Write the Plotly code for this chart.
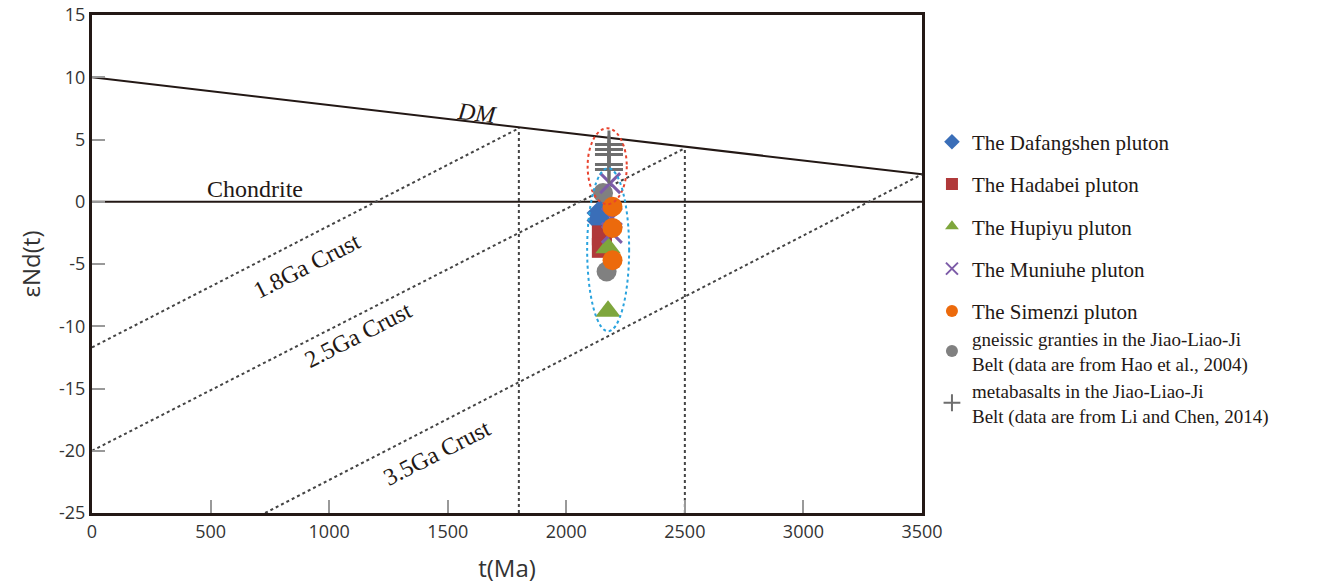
import plotly.graph_objects as go

# ---------------- data ----------------
x_tickvals = [0, 500, 1000, 1500, 2000, 2500, 3000, 3500]
x_ticktext = ["0", "500", "1000", "1500", "2000", "2500", "3000", "3500"]
y_tickvals = [-25, -20, -15, -10, -5, 0, 5, 10, 15]
y_ticktext = ["-25", "-20", "-15", "-10", "-5", "0", "5", "10", "15"]

# reference evolution lines
dm_t = [0, 3500]
dm_eps = [10.0, 2.2]
chondrite_t = [0, 3500]
chondrite_eps = [0, 0]
crust18_t = [0, 1800]
crust18_eps = [-11.7, 5.9]
crust25_t = [0, 2500]
crust25_eps = [-20.0, 4.3]
crust35_t = [730, 3500]
crust35_eps = [-25.0, 2.2]
v18_t = [1800, 1800]
v18_eps = [-25.0, 5.9]
v25_t = [2500, 2500]
v25_eps = [-25.0, 4.3]

# samples
gneiss_t = [2155, 2170]
gneiss_eps = [0.7, -5.6]
dafangshen_t = [2140, 2140]
dafangshen_eps = [-0.9, -1.5]
hadabei_t = [2150, 2150]
hadabei_eps = [-2.7, -3.7]
hupiyu_t = [2176, 2176]
hupiyu_eps = [-3.7, -8.8]
muniuhe_t = [2185, 2192, 2192]
muniuhe_eps = [1.5, -1.3, -2.5]
metabasalt_t = [2180, 2180, 2180, 2180, 2180]
metabasalt_eps = [4.6, 4.2, 3.8, 3.0, 2.6]
simenzi_t = [2195, 2195, 2195]
simenzi_eps = [-0.4, -2.1, -4.7]

# ellipses (x0, x1, y0, y1)
red_ellipse = [2090, 2255, -0.2, 5.9]
blue_ellipse = [2088, 2265, -10.4, 2.7]

SERIF = "Liberation Serif"
SANS = "Open Sans"
DARK = "#231815"

fig = go.Figure()

def ref_line(t, e, dash="solid", width=2, color=DARK):
    fig.add_trace(go.Scatter(x=t, y=e, mode="lines", showlegend=False,
                             hoverinfo="skip",
                             line=dict(color=color, width=width, dash=dash)))

ref_line(dm_t, dm_eps)
ref_line(chondrite_t, chondrite_eps)
for t, e in [(crust18_t, crust18_eps), (crust25_t, crust25_eps),
             (crust35_t, crust35_eps), (v18_t, v18_eps), (v25_t, v25_eps)]:
    ref_line(t, e, dash="dot", width=2, color="#444444")

def pts(t, e, name, symbol, color, size, rank, legend, line=None):
    mk = dict(symbol=symbol, color=color, size=size)
    if line is not None:
        mk["line"] = line
    fig.add_trace(go.Scatter(x=t, y=e, mode="markers", name=name,
                             marker=mk, legendrank=rank, legend=legend))

pts(gneiss_t, gneiss_eps,
    "gneissic granties in the Jiao-Liao-Ji<br>Belt (data are from Hao et al., 2004)",
    "circle", "#808080", 20, 6, "legend2")
pts(dafangshen_t, dafangshen_eps, "The Dafangshen pluton", "diamond", "#3A6EB8", 20, 1, "legend")
pts(hadabei_t, hadabei_eps, "The Hadabei pluton", "square", "#B0393A", 20, 2, "legend")
pts(hupiyu_t, hupiyu_eps, "The Hupiyu pluton", "triangle-up", "#7EA63C", 22, 3, "legend")
pts(muniuhe_t, muniuhe_eps, "The Muniuhe pluton", "x-thin", "#7D5CA8", 20, 4, "legend",
    line=dict(color="#7D5CA8", width=3))
pts(metabasalt_t, metabasalt_eps,
    "metabasalts in the Jiao-Liao-Ji<br>Belt (data are from Li and Chen, 2014)",
    "cross-thin", "#6E6E6E", 20, 7, "legend3", line=dict(color="#6E6E6E", width=3))
pts(simenzi_t, simenzi_eps, "The Simenzi pluton", "circle", "#EC6A0C", 20, 5, "legend")

# ellipses
fig.add_shape(type="circle", xref="x", yref="y",
              x0=red_ellipse[0], x1=red_ellipse[1], y0=red_ellipse[2], y1=red_ellipse[3],
              line=dict(color="#E8432E", width=2, dash="dot"))
fig.add_shape(type="circle", xref="x", yref="y",
              x0=blue_ellipse[0], x1=blue_ellipse[1], y0=blue_ellipse[2], y1=blue_ellipse[3],
              line=dict(color="#2AA3DE", width=2, dash="dot"))

# text labels
lab_font = dict(family=SERIF, size=24, color=DARK)
fig.add_annotation(x=1625, y=7.1, text="<i>DM</i>", showarrow=False, textangle=6.7, font=lab_font)
fig.add_annotation(x=687, y=1.0, text="Chondrite", showarrow=False, font=lab_font)
fig.add_annotation(x=905, y=-5.2, text="1.8Ga Crust", showarrow=False, textangle=-27, font=lab_font)
fig.add_annotation(x=1122, y=-10.7, text="2.5Ga Crust", showarrow=False, textangle=-27, font=lab_font)
fig.add_annotation(x=1453, y=-20.2, text="3.5Ga Crust", showarrow=False, textangle=-27, font=lab_font)

axis_common = dict(showgrid=False, zeroline=False, showline=True, linewidth=3,
                   linecolor=DARK, mirror=True, ticks="inside", ticklen=13,
                   tickwidth=1.5, tickcolor="#999999",
                   tickfont=dict(family=SANS, size=18, color="#333333"))

fig.update_xaxes(range=[0, 3500], tickvals=x_tickvals, ticktext=x_ticktext, **axis_common,
                 title=dict(text="t(Ma)", font=dict(family=SANS, size=24, color="#333333"),
                            standoff=20))
fig.update_yaxes(range=[-25, 15], tickvals=y_tickvals, ticktext=y_ticktext, **axis_common,
                 title=dict(text="εNd(t)", font=dict(family=SANS, size=24, color="#333333"),
                            standoff=12))

leg_font = dict(family=SERIF, size=21, color=DARK)
leg_font2 = dict(family=SERIF, size=19, color=DARK)
fig.update_layout(
    width=1324, height=584,
    margin=dict(l=92, r=402, t=15, b=71, autoexpand=False),
    plot_bgcolor="white", paper_bgcolor="white",
    legend=dict(x=1.012, y=0.786, xanchor="left", yanchor="top", font=leg_font,
                tracegroupgap=12, traceorder="grouped", bgcolor="rgba(0,0,0,0)",
                itemsizing="constant"),
    legend2=dict(x=1.012, y=0.388, xanchor="left", yanchor="top", font=leg_font2,
                 bgcolor="rgba(0,0,0,0)", itemsizing="constant"),
    legend3=dict(x=1.012, y=0.284, xanchor="left", yanchor="top", font=leg_font2,
                 bgcolor="rgba(0,0,0,0)", itemsizing="constant"),
)
for tr in fig.data:
    if tr.name and tr.legend == "legend":
        tr.legendgroup = tr.name

fig.write_html("out.html")
